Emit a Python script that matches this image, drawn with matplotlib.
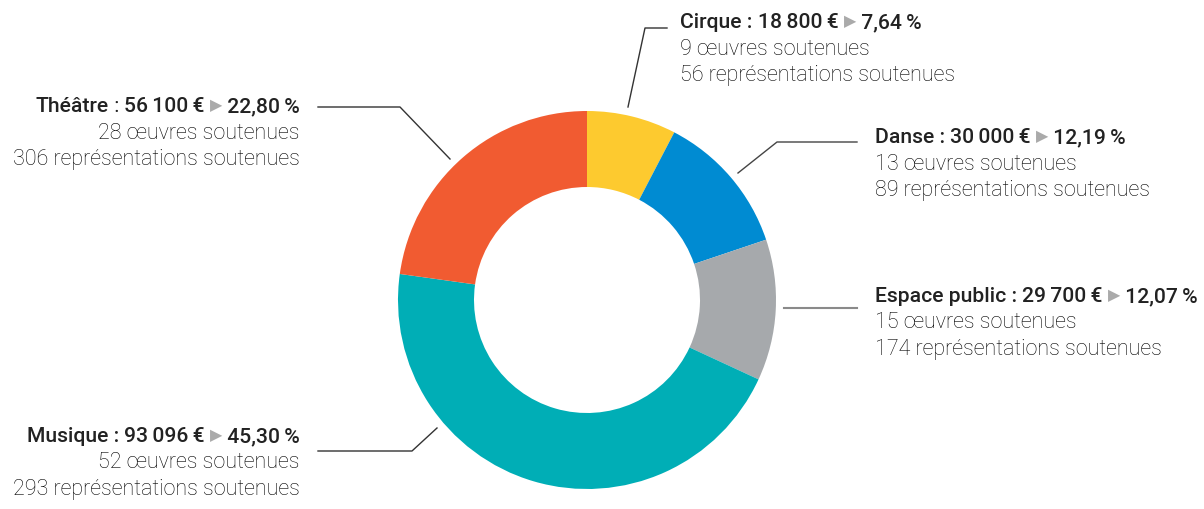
import matplotlib.pyplot as plt
import matplotlib

matplotlib.rcParams['font.family'] = ['Roboto', 'DejaVu Sans']

# budget per discipline, clockwise from the top
names = ['Cirque', 'Danse', 'Espace public', 'Musique', 'Théâtre']
gap = '\u200a\u200a'
amounts = ['18' + gap + '800' + gap + '€', '30' + gap + '000' + gap + '€',
           '29' + gap + '700' + gap + '€', '93' + gap + '096' + gap + '€',
           '56' + gap + '100' + gap + '€']
shares = [7.64, 12.19, 12.07, 45.30, 22.80]
oeuvres = [9, 13, 15, 52, 28]
representations = [56, 89, 174, 293, 306]
colors = ['#FDCA2F', '#008BD2', '#A6A9AC', '#00AEB6', '#F15B31']

W, H = 1204, 509
fig = plt.figure(figsize=(W / 100, H / 100), dpi=100)
ax = fig.add_axes([0, 0, 1, 1])

cx, cy = 587, H - 300
ax.pie(shares, colors=colors, startangle=90, counterclock=False,
       center=(cx, cy), radius=189, frame=True,
       wedgeprops=dict(width=76, linewidth=0))
ax.set_xlim(0, W)
ax.set_ylim(0, H)
ax.set_aspect('equal')
ax.axis('off')

# label anchor (x, heading baseline), alignment, leader path, leader colour
layout = {
    'Cirque':        (680, 28, 'left',  [(628, 107), (645, 28), (667, 28)], '#333333'),
    'Danse':         (875, 143, 'left', [(738, 173), (777, 142), (857, 142)], '#444444'),
    'Espace public': (875, 302, 'left', [(784, 308), (857, 308)], '#8a8a8a'),
    'Musique':       (300, 442, 'right', [(437, 428), (412, 451), (318, 451)], '#333333'),
    'Théâtre':       (300, 112, 'right', [(450, 159), (400, 107), (318, 107)], '#333333'),
}

fs = 15.2
dark = '#222222'
sub = '#000000'
fig.canvas.draw()
renderer = fig.canvas.get_renderer()


def width_of(t):
    return t.get_window_extent(renderer).width


def heading(name, amount, share, x, y, ha):
    pct = f'{share:.2f}'.replace('.', ',') + gap + '%'
    if name == 'Théâtre':
        parts = [(name, 'medium', dark, fs), (' : ', 'normal', dark, fs)]
    else:
        parts = [(name + ' : ', 'medium', dark, fs)]
    parts += [(amount + ' ', 'medium', dark, fs), ('▶', 'normal', '#AAAAAA', 11.5),
              (' ' + pct, 'medium', dark, fs)]
    texts = [ax.text(0, H - y, s, fontsize=size, fontweight=w, color=c, va='baseline', ha='left')
             for s, w, c, size in parts]
    widths = [width_of(t) for t in texts]
    start = x if ha == 'left' else x - sum(widths)
    for t, w in zip(texts, widths):
        t.set_x(start)
        start += w
    # lift the small triangle to the middle of the capitals
    texts[-2].set_y(H - y + 1.5)


for i, name in enumerate(names):
    x, y, ha, path, lc = layout[name]
    heading(name, amounts[i], shares[i], x, y, ha)
    ax.text(x, H - y - 26.5, f'{oeuvres[i]} œuvres soutenues', fontsize=15.5,
            fontweight='light', color=sub, ha=ha, va='baseline')
    ax.text(x, H - y - 53, f'{representations[i]} représentations soutenues', fontsize=15.5,
            fontweight='light', color=sub, ha=ha, va='baseline')
    xs = [p[0] for p in path]
    ys = [H - p[1] for p in path]
    ax.plot(xs, ys, color=lc, linewidth=1.5 if name == 'Espace public' else 1.0)

fig.savefig('out.png', dpi=100)
